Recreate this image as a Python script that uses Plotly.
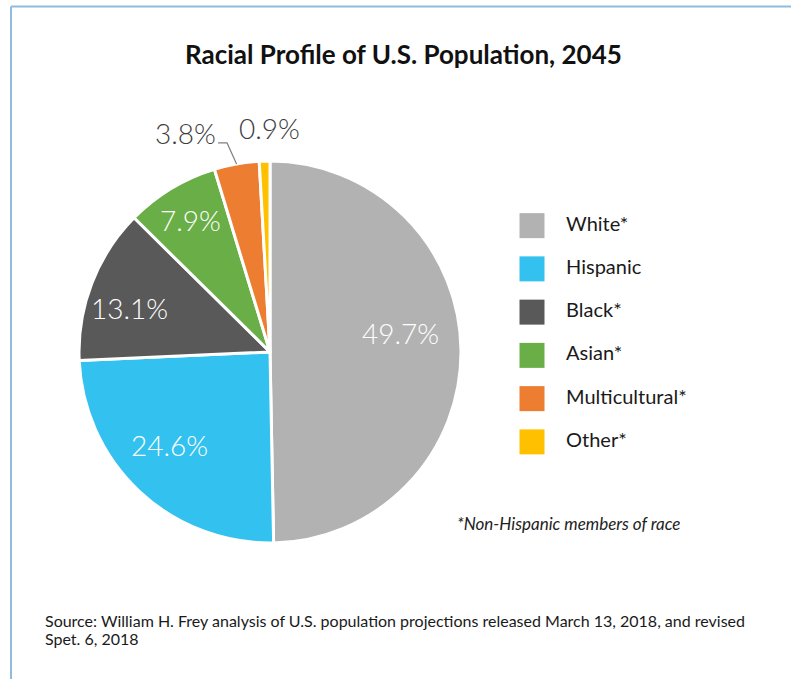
import math
import plotly.graph_objects as go

# Data
groups = ["White*", "Hispanic", "Black*", "Asian*", "Multicultural*", "Other*"]
shares = [49.7, 24.6, 13.1, 7.9, 3.8, 0.9]
share_labels = ["49.7%", "24.6%", "13.1%", "7.9%", "3.8%", "0.9%"]
colors = ["#b2b2b2", "#33c1ef", "#595959", "#6aae47", "#ed7d31", "#ffc000"]

# label placement (fraction of radius, turn from slice mid-angle in degrees)
label_radius = [0.688, 0.716, 0.77, 0.806, 1.23, 1.173]
label_turn = [-7.8, 3.8, -3.7, 0, -11.1, 1.6]
label_inside = [True, True, True, True, False, False]

source_lines = [
    "Source: William H. Frey analysis of U.S. population projections released March 13, 2018, and revised",
    "Spet. 6, 2018",
]

W, H = 791, 679
FONT = "Lato"
CX, CY, R = 270, 352, 191   # pie centre / radius in pixels


def px_x(x):
    return x / W


def px_y(y):
    # pixel from top -> paper from bottom
    return 1 - y / H


def pie_point(angle_deg, frac):
    # angle measured clockwise from 12 o'clock, like the pie itself
    th = math.radians(angle_deg)
    return CX + frac * R * math.sin(th), CY - frac * R * math.cos(th)


fig = go.Figure()

fig.add_trace(go.Pie(
    labels=groups,
    values=shares,
    text=share_labels,
    textinfo="none",
    sort=False,
    direction="clockwise",
    rotation=0,
    marker=dict(colors=colors, line=dict(color="white", width=3)),
    domain=dict(x=[px_x(CX - R), px_x(CX + R)], y=[px_y(CY + R), px_y(CY - R)]),
    showlegend=False,
    hoverinfo="label+text",
))

# Legend drawn as a small categorical scatter
fig.add_trace(go.Scatter(
    x=[0] * len(groups),
    y=groups,
    mode="markers",
    marker=dict(symbol="square", size=25, color=colors, line=dict(width=0)),
    showlegend=False,
    hoverinfo="skip",
    cliponaxis=False,
))
fig.add_trace(go.Scatter(
    x=[0.14] * len(groups),
    y=groups,
    mode="text",
    text=groups,
    textposition="middle right",
    textfont=dict(family=FONT, size=20, color="#1a1a1a"),
    showlegend=False,
    hoverinfo="skip",
    cliponaxis=False,
))

# percentage labels placed from the slice angles
annotations = []
shapes = []
cum = 0.0
for share, lab, frac, turn, inside in zip(shares, share_labels, label_radius,
                                          label_turn, label_inside):
    mid = (cum + share / 2) / 100 * 360
    cum += share
    lx, ly = pie_point(mid + turn, frac)
    annotations.append(dict(
        text=lab, x=px_x(lx), y=px_y(ly), xref="paper", yref="paper",
        xanchor="center", yanchor="middle", showarrow=False,
        font=dict(family=FONT, size=28, weight=300,
                  color="white" if inside else "#3d3d3d"),
    ))
    if lab == "3.8%":
        tx, ty = pie_point(mid, 1.0)
        ex, ey = tx - 9.5, ty - 21
        sx, sy = ex - 9, ey
        shapes.append(dict(
            type="path", xref="paper", yref="paper",
            path=f"M {px_x(sx)} {px_y(sy)} L {px_x(ex)} {px_y(ey)} L {px_x(tx)} {px_y(ty)}",
            line=dict(color="#808080", width=1.2),
        ))

# frame lines
shapes += [
    dict(type="line", xref="paper", yref="paper",
         x0=px_x(11), x1=1, y0=px_y(6.5), y1=px_y(6.5),
         line=dict(color="#8fbbe0", width=2)),
    dict(type="line", xref="paper", yref="paper",
         x0=px_x(11), x1=px_x(11), y0=px_y(6.5), y1=0,
         line=dict(color="#8fbbe0", width=2)),
]

annotations += [
    dict(text="<b>Racial Profile of U.S. Population, 2045</b>",
         x=px_x(403), y=px_y(54), xref="paper", yref="paper",
         xanchor="center", yanchor="middle", showarrow=False,
         font=dict(family=FONT, size=26, color="#111111")),
    dict(text="*Non-Hispanic members of race",
         x=px_x(455), y=px_y(523), xref="paper", yref="paper",
         xanchor="left", yanchor="middle", showarrow=False,
         font=dict(family=FONT, size=17, color="#222222", style="italic")),
]
for i, line in enumerate(source_lines):
    annotations.append(dict(
        text=line, x=px_x(43), y=px_y(620 + 18 * i), xref="paper", yref="paper",
        xanchor="left", yanchor="middle", align="left", showarrow=False,
        font=dict(family=FONT, size=16, color="#1a1a1a"),
    ))

fig.update_layout(
    width=W,
    height=H,
    margin=dict(l=0, r=0, t=0, b=0),
    paper_bgcolor="white",
    plot_bgcolor="rgba(0,0,0,0)",
    xaxis=dict(domain=[px_x(532), 0.98], range=[0, 1], visible=False, fixedrange=True),
    yaxis=dict(domain=[px_y(463.5), px_y(204)], range=[5.5, -0.5],
               type="category", visible=False, fixedrange=True),
    shapes=shapes,
    annotations=annotations,
)

fig.write_html("out.html", config={"displayModeBar": False},
               post_script="document.body.style.margin='0px';")
